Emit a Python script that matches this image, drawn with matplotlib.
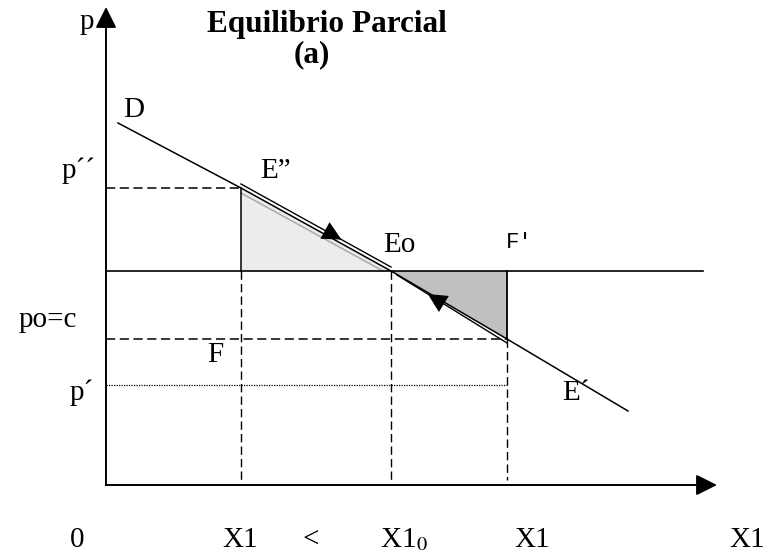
"""Partial equilibrium diagram (Equilibrio Parcial, panel a)."""

import numpy as np
import matplotlib.pyplot as plt

plt.rcParams["font.family"] = ["Liberation Serif", "DejaVu Serif"]
plt.rcParams["mathtext.fontset"] = "stix"

# quantities on the horizontal axis (diagram units, origin at the axes corner)
q_low = 135
q_eq = 285
q_high = 401
# price levels
p_high = 297
p_eq = 214
p_low = 146
p_prime = 100

# demand line (D ... E')
demand_x = [12, q_low, q_eq, q_high, 522]
demand_y = [362, p_high, p_eq, p_low, 74]

x_axis_end = 611
y_axis_end = 478
po_line_end = 597

bottom_labels = ["0", "X1", "<", "X1$_{0}$", "X1", "X1"]
bottom_label_x = [-36, 116, 196, 274, 408, 623]

BLACK = "black"
DASH = (0, (6, 3))

fig = plt.figure(figsize=(7.69, 5.58), dpi=100)
ax = fig.add_axes([0, 0, 1, 1])
ax.set_xlim(-106, 663)
ax.set_ylim(-73, 485)
ax.axis("off")

# shaded triangles
ax.fill([q_low, q_low, q_eq], [p_high, p_eq, p_eq], color="#ececec", lw=0, zorder=1)
ax.plot([q_low, q_eq - 8], [p_high - 5, p_eq], color="#a8a8a8", lw=1.1, zorder=2)
ax.fill([q_eq, q_high, q_high], [p_eq, p_eq, p_low], color="#c0c0c0", lw=0, zorder=1)

# axes with arrow heads
ax.plot([0, 0], [0, y_axis_end - 15], color=BLACK, lw=1.4)
ax.plot([0, x_axis_end - 15], [0, 0], color=BLACK, lw=1.4)
head = dict(arrowstyle="-|>", mutation_scale=32, color=BLACK, lw=1.4,
            shrinkA=0, shrinkB=0)
ax.annotate("", xy=(0, y_axis_end), xytext=(0, y_axis_end - 20), arrowprops=head)
ax.annotate("", xy=(x_axis_end, 0), xytext=(x_axis_end - 20, 0), arrowprops=head)

# price lines
ax.plot([0, po_line_end], [p_eq, p_eq], color=BLACK, lw=1.2)
ax.plot([0, q_low], [p_high, p_high], color=BLACK, lw=1.1, ls=DASH)
ax.plot([0, q_high], [p_low, p_low], color=BLACK, lw=1.1, ls=DASH)
ax.plot([0, q_high], [p_prime, p_prime], color=BLACK, lw=0.9, ls=(0, (1, 1)))

# quantity lines
ax.plot([q_low, q_low], [p_high, p_eq], color=BLACK, lw=1.1)
ax.plot([q_low, q_low], [p_eq, 5], color=BLACK, lw=1.0, ls=DASH)
ax.plot([q_eq, q_eq], [p_eq, 5], color=BLACK, lw=1.0, ls=DASH)
ax.plot([q_high, q_high], [p_eq, p_low], color=BLACK, lw=1.3)
ax.plot([q_high, q_high], [p_low, 5], color=BLACK, lw=1.0, ls=DASH)

# demand
ax.plot(demand_x, demand_y, color=BLACK, lw=1.1, zorder=3)

# adjustment paths E'' -> Eo and F' -> Eo, drawn beside the demand line
small_head = dict(arrowstyle="-|>", mutation_scale=34, color=BLACK, lw=0,
                  shrinkA=0, shrinkB=0)
paths = [((q_low, p_high + 4), (q_eq, p_eq + 4), 0.67),
         ((q_high, p_low - 4), (q_eq + 6, p_eq - 4), 0.72)]
for start, end, frac in paths:
    start = np.array(start, dtype=float)
    end = np.array(end, dtype=float)
    ax.plot([start[0], end[0]], [start[1], end[1]], color=BLACK, lw=1.0, zorder=3)
    tip = start + frac * (end - start)
    back = tip - 0.15 * (end - start)
    ax.annotate("", xy=tip, xytext=back, arrowprops=small_head, zorder=4)

# labels
lbl = dict(fontsize=21, va="baseline", ha="left")
ax.text(-26, 456, "p", **lbl)
ax.text(221, 453, "Equilibrio Parcial", fontsize=22.5, fontweight="bold",
        ha="center", va="baseline")
ax.text(206, 423, "(a)", fontsize=22.5, fontweight="bold", ha="center", va="baseline")
ax.text(17, 368, "D", **lbl)
ax.text(-44, 307, "p\u00b4\u00b4", **lbl)
ax.text(154, 307, "E\u201d", **lbl)
ax.text(277, 233, "Eo", **lbl)
ax.text(400, 237, "F\u2032", fontsize=16, va="baseline", ha="left",
        family=["Liberation Mono", "DejaVu Sans Mono"])
ax.text(-87, 158, "po=c", **lbl)
ax.text(101, 123, "F", **lbl)
ax.text(-36, 85, "p\u00b4", **lbl)
ax.text(456, 85, "E\u00b4", **lbl)
for text, x in zip(bottom_labels, bottom_label_x):
    ax.text(x, -62, text, **lbl)

fig.savefig("out.png", dpi=100)
